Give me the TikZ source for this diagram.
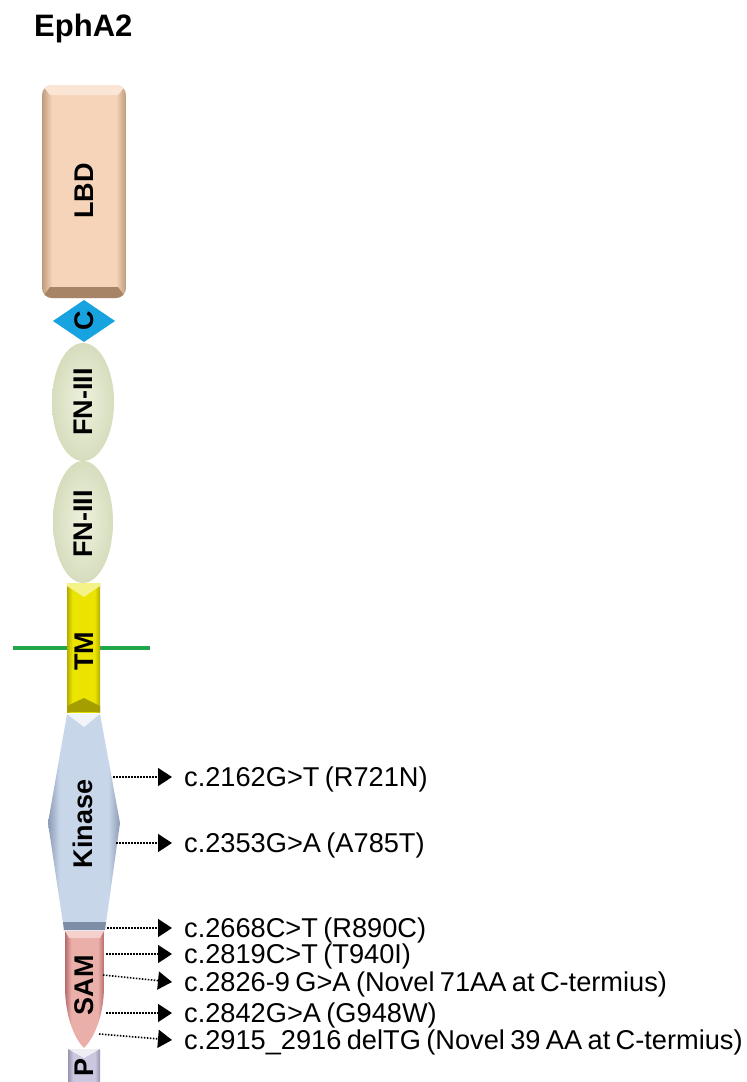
\documentclass[tikz,border=0pt]{standalone}
\usepackage{fontspec}
\setmainfont{Liberation Sans}
\usetikzlibrary{arrows.meta}
\definecolor{lbdF}{HTML}{F6D4B9}
\definecolor{lbdE}{HTML}{C09A7C}
\definecolor{lbdB}{HTML}{A88466}
\definecolor{lbdT}{HTML}{FBE6D6}
\definecolor{cblue}{HTML}{17A2E0}
\definecolor{fnF}{HTML}{EEF2DE}
\definecolor{fnE}{HTML}{D6DDBD}
\definecolor{tmF}{HTML}{EAE400}
\definecolor{tmE}{HTML}{B2AC00}
\definecolor{tmT}{HTML}{F5F288}
\definecolor{tmB}{HTML}{A49E00}
\definecolor{kinF}{HTML}{C8D6EA}
\definecolor{kinE}{HTML}{8A9AB2}
\definecolor{kinB}{HTML}{7E8EA6}
\definecolor{samF}{HTML}{EBAFAA}
\definecolor{samE}{HTML}{B56B6B}
\definecolor{samT}{HTML}{F5D0CC}
\definecolor{pF}{HTML}{CBC7DE}
\definecolor{pE}{HTML}{9894B0}
\definecolor{memb}{HTML}{21A64B}
\pgfdeclarehorizontalshading{lbdsh}{100bp}{color(0bp)=(lbdE); color(25bp)=(lbdE); color(31bp)=(lbdF); color(69bp)=(lbdF); color(75bp)=(lbdE); color(100bp)=(lbdE)}
\pgfdeclarehorizontalshading{tmsh}{100bp}{color(0bp)=(tmE); color(25bp)=(tmE); color(33bp)=(tmF); color(67bp)=(tmF); color(75bp)=(tmE); color(100bp)=(tmE)}
\pgfdeclarehorizontalshading{kinsh}{100bp}{color(0bp)=(kinE); color(25bp)=(kinE); color(33bp)=(kinF); color(67bp)=(kinF); color(75bp)=(kinE); color(100bp)=(kinE)}
\pgfdeclarehorizontalshading{samsh}{100bp}{color(0bp)=(samE); color(25bp)=(samE); color(33bp)=(samF); color(67bp)=(samF); color(75bp)=(samE); color(100bp)=(samE)}
\pgfdeclarehorizontalshading{psh}{100bp}{color(0bp)=(pE); color(25bp)=(pE); color(33bp)=(pF); color(67bp)=(pF); color(75bp)=(pE); color(100bp)=(pE)}
\newcommand\mutfont{\fontsize{27.2}{30}\selectfont\spaceskip=5.4pt\relax}
\tikzset{
  dom/.style={font=\bfseries\fontsize{27}{30}\selectfont, rotate=90, inner sep=0pt},
  mut/.style={anchor=west, inner xsep=12pt, inner ysep=0pt, text height=18pt, text depth=0pt, font=\mutfont},
  arr/.style={dash pattern=on 1.5pt off 1.5pt, line width=1.6pt, -{Triangle[length=14pt,width=18pt]}},
  membrane/.style={memb, line width=4pt}
}
\begin{document}
\begin{tikzpicture}[x=1pt,y=-1pt]
\useasboundingbox (0,0) rectangle (747,1082);
\fill[white] (0,0) rectangle (747,1082);
% title
\node[anchor=base west, inner sep=0pt, font=\bfseries\fontsize{31}{34}\selectfont] (title) at (34,36) {EphA2};
% membrane line
\draw[membrane] (13,648) -- (150,648);
% LBD
\begin{scope}
\clip[rounded corners=10pt] (42,85) rectangle (126,298);
\shade[shading=lbdsh] (42,85) rectangle (126,298);
\fill[lbdB] (42,298) -- (50,287) -- (118,287) -- (126,298) -- cycle;
\fill[lbdT] (42,85) -- (126,85) -- (118,95) -- (50,95) -- cycle;
\end{scope}
\node[dom] (lbd) at (84,191) {LBD};
% C
\fill[cblue] (53,321) -- (84,300) -- (115,321) -- (84,342) -- cycle;
\node[dom] (cdom) at (84,321) {C};
% FN-III
\shade[inner color=fnF, outer color=fnE] (83,402) ellipse [x radius=31, y radius=59];
\node[dom] (fn1) at (83,402) {FN-III};
\shade[inner color=fnF, outer color=fnE] (83,522) ellipse [x radius=30, y radius=61];
\node[dom] (fn2) at (83,524) {FN-III};
% TM
\shade[shading=tmsh] (67,583) rectangle (100,712);
\fill[tmT] (67,583) -- (100,583) -- (100,586) -- (84,597) -- (67,586) -- cycle;
\fill[tmB] (67,712) -- (67,706) -- (84,698) -- (100,706) -- (100,712) -- cycle;
\node[dom] (tm) at (84,651) {TM};
% Kinase
\shade[shading=kinsh] (67,714) -- (100,714) -- (120,823) -- (105,930) -- (64,930) -- (48,823) -- cycle;
\fill[white, opacity=0.75] (67,714) -- (100,714) -- (84,727) -- cycle;
\fill[kinB] (64,930) -- (63,922) -- (106,922) -- (105,930) -- cycle;
\node[dom] (kin) at (83,824) {Kinase};
% SAM
\shade[shading=samsh] (65,931) -- (104,931) -- (104,985) .. controls (104,1020) and (92,1040) .. (84,1048) .. controls (76,1040) and (65,1020) .. (65,985) -- cycle;
\fill[samT] (65,931) -- (104,931) -- (100,938) -- (69,938) -- cycle;
\node[dom] (sam) at (84,985) {SAM};
% P
\shade[shading=psh] (68,1049) rectangle (100,1082);
\fill[white, opacity=0.7] (68,1049) -- (100,1049) -- (84,1058) -- cycle;
\node[dom] (pdom) at (84,1067) {P};
% mutations
\coordinate (s1) at (113,777);
\coordinate (s2) at (116,843);
\coordinate (s3) at (107,928);
\coordinate (s4) at (106,954);
\coordinate (s5) at (103,975);
\coordinate (s6) at (106,1013);
\coordinate (s7) at (99,1034);
\node[mut] (m1) at (172,777) {c.2162G>T (R721N)};
\node[mut] (m2) at (172,843) {c.2353G>A (A785T)};
\node[mut] (m3) at (172,928) {c.2668C>T (R890C)};
\node[mut] (m4) at (172,954) {c.2819C>T (T940I)};
\node[mut] (m5) at (172,982) {c.2826-9 G>A (Novel 71AA at C-termius)};
\node[mut] (m6) at (172,1013) {c.2842G>A (G948W)};
\node[mut] (m7) at (172,1040) {c.2915\_2916 delTG (Novel 39 AA at C-termius)};
\foreach \i in {1,...,7} \draw[arr] (s\i) -- (m\i.west);
\end{tikzpicture}
\end{document}
